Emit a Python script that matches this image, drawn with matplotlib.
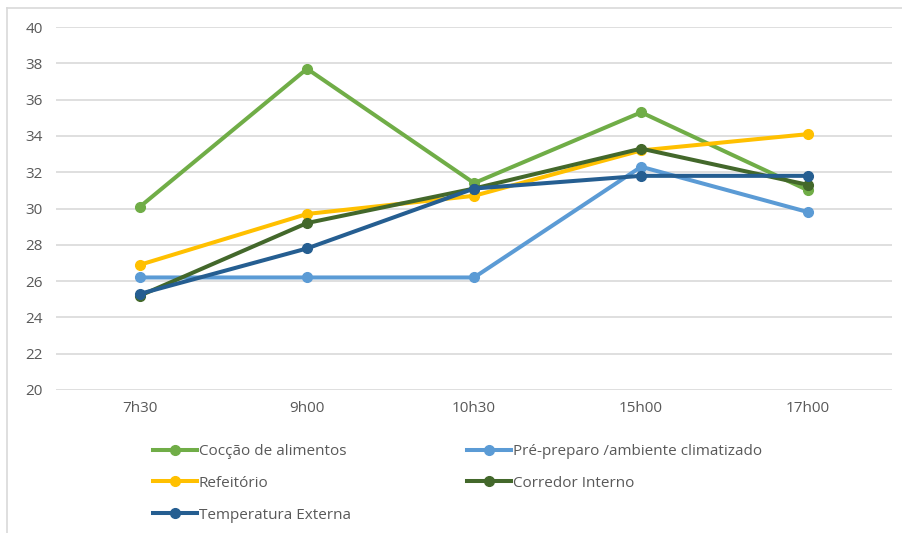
import matplotlib.pyplot as plt
from matplotlib.lines import Line2D

plt.rcParams['font.family'] = ['Open Sans', 'DejaVu Sans']

horarios = ["7h30", "9h00", "10h30", "15h00", "17h00"]

coccao = [30.1, 37.7, 31.4, 35.3, 31.0]
pre_preparo = [26.2, 26.2, 26.2, 32.3, 29.8]
refeitorio = [26.9, 29.7, 30.7, 33.2, 34.1]
corredor = [25.2, 29.2, 31.1, 33.3, 31.3]
externa = [25.3, 27.8, 31.1, 31.8, 31.8]

series = [
    ("Cocção de alimentos", coccao, "#70AD47"),
    ("Pré-preparo /ambiente climatizado", pre_preparo, "#5B9BD5"),
    ("Refeitório", refeitorio, "#FFC000"),
    ("Corredor Interno", corredor, "#43682B"),
    ("Temperatura Externa", externa, "#255E91"),
]

fig = plt.figure(figsize=(9.02, 5.33), dpi=100)
ax = fig.add_axes([0.0626, 0.2683, 0.926, 0.681])

x = range(len(horarios))
for nome, valores, cor in series:
    ax.plot(x, valores, color=cor, lw=2.9, marker="o", ms=7,
            solid_capstyle="round", label=nome, zorder=3)

ax.set_xlim(-0.5, len(horarios) - 0.5)
ax.set_ylim(20, 40)
ax.set_yticks(range(20, 41, 2))
ax.set_xticks(list(x))
ax.set_xticklabels(horarios)
ax.grid(axis="y", color="#d9d9d9", lw=1.2, zorder=0)
for s in ax.spines.values():
    s.set_visible(False)
ax.tick_params(length=0, colors="#595959", labelsize=11)
ax.tick_params(axis="y", pad=10)
ax.tick_params(axis="x", pad=8)

# ordem das entradas: linha por linha em duas colunas
handles = [Line2D([], [], color=c, lw=2.9, marker="o", ms=7) for _, _, c in series]
labels = [n for n, _, _ in series]
order = [0, 2, 4, 1, 3]
fig.legend([handles[i] for i in order], [labels[i] for i in order],
           ncol=2, loc="upper left", bbox_to_anchor=(153 / 902, 1 - 444 / 533),
           frameon=False, fontsize=11, labelcolor="#595959",
           handlelength=2.9, handletextpad=0.1, labelspacing=1.1,
           columnspacing=7.6, borderpad=0, borderaxespad=0)

# moldura do gráfico
fig.add_artist(Line2D([7.5 / 902, 7.5 / 902], [0, 1 - 7.5 / 533],
                      transform=fig.transFigure, color="#d9d9d9", lw=1.2))
fig.add_artist(Line2D([7.5 / 902, 1], [1 - 7.5 / 533, 1 - 7.5 / 533],
                      transform=fig.transFigure, color="#d9d9d9", lw=1.2))

fig.savefig("out.png", dpi=100)
